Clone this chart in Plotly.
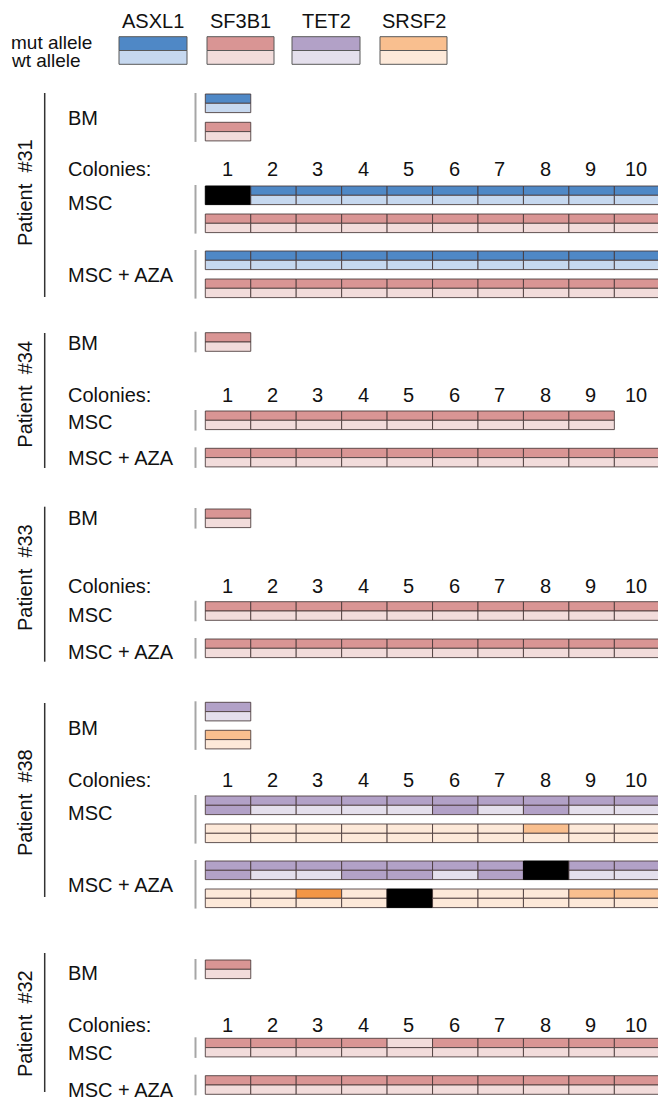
import plotly.graph_objects as go

W, H = 658, 1102

# ---------------- data ----------------
GENES = ["ASXL1", "SF3B1", "TET2", "SRSF2"]
MUT_COLORS = ["#4F88C6", "#D99594", "#B2A1C7", "#F9BF8F"]
WT_COLORS = ["#C6D8EF", "#F2DCDB", "#E4DFEC", "#FDE9D9"]
STRONG_COLOR = "#F39645"   # strongly mutated SRSF2 colony
FAIL_COLOR = "#000000"     # no result

PATIENTS = ["#31", "#34", "#33", "#38", "#32"]
COLONY_LABELS = ["1", "2", "3", "4", "5", "6", "7", "8", "9", "10"]
ALLELE_LABELS = ["mut allele", "wt allele"]

# genotype codes per colony: H = heterozygous mutant, O = both alleles mutant,
# W = wild type, S = strongly mutant, X = failed
P31_GENES = ["ASXL1", "SF3B1"]
P31_BM = ["H", "H"]
P31_MSC = ["XHHHHHHHHH", "HHHHHHHHHH"]
P31_AZA = ["HHHHHHHHHH", "HHHHHHHHHH"]

P34_GENES = ["SF3B1"]
P34_BM = ["H"]
P34_MSC = ["HHHHHHHHH"]
P34_AZA = ["HHHHHHHHHH"]

P33_GENES = ["SF3B1"]
P33_BM = ["H"]
P33_MSC = ["HHHHHHHHHH"]
P33_AZA = ["HHHHHHHHHH"]

P38_GENES = ["TET2", "SRSF2"]
P38_BM = ["H", "H"]
P38_MSC = ["OHHHHOHOHH", "WWWWWWWHWW"]
P38_AZA = ["OHHOOHOXHH", "WWSWXWWWHH"]

P32_GENES = ["SF3B1"]
P32_BM = ["H"]
P32_MSC = ["HHHHWHHHHH"]
P32_AZA = ["HHHHHHHHHH"]

PATIENT_DATA = {
    "#31": (P31_GENES, P31_BM, P31_MSC, P31_AZA),
    "#34": (P34_GENES, P34_BM, P34_MSC, P34_AZA),
    "#33": (P33_GENES, P33_BM, P33_MSC, P33_AZA),
    "#38": (P38_GENES, P38_BM, P38_MSC, P38_AZA),
    "#32": (P32_GENES, P32_BM, P32_MSC, P32_AZA),
}

# ---------------- layout (pixel-space positions) ----------------
LAYOUT = {
    "#31": dict(bm=[94, 122.3], col=169, msc=[186, 214], aza=[251, 279], line=(93, 297),
                label=193, t_bm=117.7, t_msc=202.7, t_aza=275),
    "#34": dict(bm=[332.7], col=394.5, msc=[411], aza=[448.3], line=(333, 468),
                label=394.7, t_bm=343, t_msc=421.7, t_aza=458.3),
    "#33": dict(bm=[509], col=585.5, msc=[601.7], aza=[639], line=(506.7, 661.7),
                label=578, t_bm=518.3, t_msc=615, t_aza=651.7),
    "#38": dict(bm=[702.3, 730.3], col=779.5, msc=[796, 824], aza=[861, 889], line=(703, 897),
                label=803, t_bm=728.3, t_msc=812.7, t_aza=885),
    "#32": dict(bm=[960], col=1025, msc=[1038.3], aza=[1075.7], line=(953, 1092),
                label=1024, t_bm=973.3, t_msc=1053.3, t_aza=1090),
}
X0 = 205.3       # left edge of colony 1
CW = 45.45       # colony width
BH = 18.6        # bar height
SEP_X = 195.5
PLINE_X = 44.7
TEXT_X = 66
LEG_X = [(119, 187), (207, 274), (292, 360), (380, 447)]
LEG_Y = (36.7, 64.3)

FONT = dict(family="Liberation Sans, Arial, sans-serif", size=20, color="#111111")
SMALL_FONT = dict(family="Liberation Sans, Arial, sans-serif", size=19, color="#111111")
EDGE = dict(color="rgba(70,55,55,0.85)", width=1)

shapes = []
annotations = []


def rect(x0, x1, y0, y1, fill, line=EDGE):
    shapes.append(dict(type="rect", xref="x", yref="y", x0=x0, x1=x1, y0=y0, y1=y1,
                       fillcolor=fill, line=line, layer="above"))


def text(x, y, s, xanchor="left", angle=0, font=FONT):
    annotations.append(dict(x=x, y=y, xref="x", yref="y", text=s, showarrow=False,
                            xanchor=xanchor, yanchor="middle", textangle=angle, font=font))


def colors_for(code, gi):
    if code == "H":
        return MUT_COLORS[gi], WT_COLORS[gi]
    if code == "O":
        return MUT_COLORS[gi], MUT_COLORS[gi]
    if code == "S":
        return STRONG_COLOR, WT_COLORS[gi]
    if code == "X":
        return FAIL_COLOR, FAIL_COLOR
    return WT_COLORS[gi], WT_COLORS[gi]


def draw_row(y0, codes, gene):
    gi = GENES.index(gene)
    for i, c in enumerate(codes):
        xa, xb = X0 + i * CW, X0 + (i + 1) * CW
        top, bot = colors_for(c, gi)
        if c == "X":
            rect(xa, xb, y0, y0 + BH, FAIL_COLOR, dict(color="#000000", width=1))
        else:
            rect(xa, xb, y0, y0 + BH / 2, top)
            rect(xa, xb, y0 + BH / 2, y0 + BH, bot)


def sep(y0, y1):
    shapes.append(dict(type="line", xref="x", yref="y", x0=SEP_X, x1=SEP_X, y0=y0, y1=y1,
                       line=dict(color="#A6A6A6", width=2)))


# legend
for gi, g in enumerate(GENES):
    xa, xb = LEG_X[gi]
    ym = (LEG_Y[0] + LEG_Y[1]) / 2
    rect(xa, xb, LEG_Y[0], ym, MUT_COLORS[gi], dict(color="#595959", width=1))
    rect(xa, xb, ym, LEG_Y[1], WT_COLORS[gi], dict(color="#595959", width=1))
    text((xa + xb) / 2, 21, g, xanchor="center")
text(9, 42, ALLELE_LABELS[0], font=SMALL_FONT)
text(9, 60, ALLELE_LABELS[1], font=SMALL_FONT)

# patients
for p in PATIENTS:
    genes, bm, msc, aza = PATIENT_DATA[p]
    L = LAYOUT[p]
    shapes.append(dict(type="line", xref="x", yref="y", x0=PLINE_X, x1=PLINE_X,
                       y0=L["line"][0], y1=L["line"][1], line=dict(color="#333333", width=1.5)))
    text(25, L["label"], "Patient\u00a0\u00a0" + p, xanchor="center", angle=-90)
    text(TEXT_X, L["t_bm"], "BM")
    text(TEXT_X, L["col"], "Colonies:")
    text(TEXT_X, L["t_msc"], "MSC")
    text(TEXT_X, L["t_aza"], "MSC + AZA")
    for k, lab in enumerate(COLONY_LABELS):
        text(X0 + (k + 0.5) * CW - 1, L["col"], lab, xanchor="center")
    for key, rows in (("bm", bm), ("msc", msc), ("aza", aza)):
        ys = L[key]
        sep(ys[0] - 1, ys[-1] + BH + 1)
        for gene, y0, codes in zip(genes, ys, rows):
            draw_row(y0, codes, gene)

fig = go.Figure()
fig.add_trace(go.Scatter(x=[0, W], y=[0, H], mode="markers", marker=dict(opacity=0),
                         hoverinfo="skip", showlegend=False))
fig.update_layout(
    width=W, height=H, margin=dict(l=0, r=0, t=0, b=0),
    paper_bgcolor="white", plot_bgcolor="white",
    xaxis=dict(range=[0, W], visible=False, fixedrange=True),
    yaxis=dict(range=[H, 0], visible=False, fixedrange=True),
    shapes=shapes, annotations=annotations, showlegend=False,
)
fig.write_html("out.html", config={"displayModeBar": False},
               post_script="document.body.style.margin='0';document.body.style.overflow='hidden';")
